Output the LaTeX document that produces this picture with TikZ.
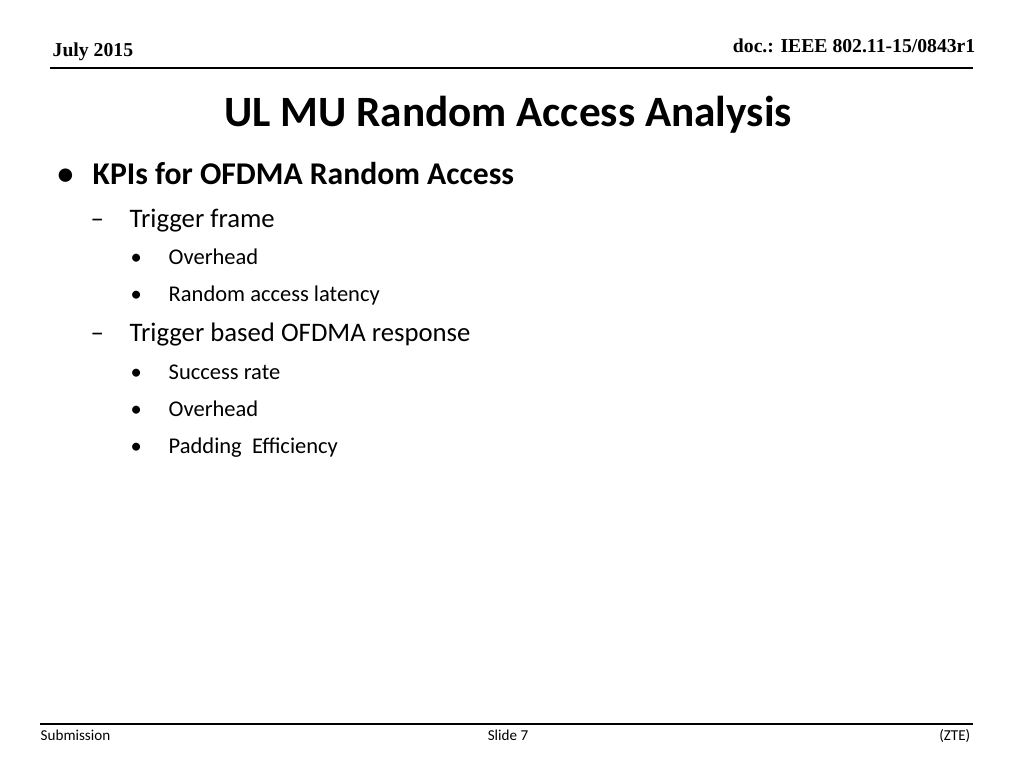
\documentclass[tikz,border=0pt]{standalone}
\usepackage{fontspec}
\setmainfont{Carlito}
\newfontfamily\timesfont{Liberation Serif}
\usetikzlibrary{positioning}
\tikzset{
  lvlone/.style={anchor=base west, inner sep=0pt, font=\fontsize{9}{11}\selectfont\bfseries},
  lvltwo/.style={anchor=base west, inner sep=0pt, font=\fontsize{7.6}{9}\selectfont},
  lvlthree/.style={anchor=base west, inner sep=0pt, font=\fontsize{6.4}{8}\selectfont},
  headtext/.style={inner sep=0pt, font=\fontsize{5.6}{7}\selectfont\timesfont\bfseries},
  foottext/.style={anchor=base, inner sep=0pt, font=\fontsize{4.3}{5}\selectfont}
}
\begin{document}
\begin{tikzpicture}[x=0.01cm,y=-0.01cm]
\useasboundingbox (0,0) rectangle (1024,768);

% Header
\node[headtext, anchor=base west] (Date) at (52,57) {July 2015};
\node[headtext, anchor=base east] (Doc) at (976,53) {doc.: IEEE 802.11-15/0843r1};
\draw[line width=0.6pt] (50,68) -- (973,68);

% Title
\node[anchor=base, inner sep=0pt, font=\fontsize{12.3}{14}\selectfont\bfseries] (Title) at (508,127) {UL MU Random Access Analysis};

% Bullets
\node[lvlone] at (57,185) {\textbullet};
\node[lvlone] (KPI) at (92,185) {KPIs for OFDMA Random Access};
\node[lvltwo] at (90,228) {--};
\node[lvltwo] (Trigger) at (129,228) {Trigger frame};
\node[lvlthree] at (130,265) {\textbullet};
\node[lvlthree] (OverheadA) at (168,265) {Overhead};
\node[lvlthree] at (130,302) {\textbullet};
\node[lvlthree] (Latency) at (168,302) {Random access latency};
\node[lvltwo] at (90,342) {--};
\node[lvltwo] (Response) at (129,342) {Trigger based OFDMA response};
\node[lvlthree] at (130,380) {\textbullet};
\node[lvlthree] (Success) at (168,380) {Success rate};
\node[lvlthree] at (130,417) {\textbullet};
\node[lvlthree] (OverheadB) at (168,417) {Overhead};
\node[lvlthree] at (130,454) {\textbullet};
\node[lvlthree] (Padding) at (168,454) {Padding\ \ Efficiency};

% Footer
\draw[line width=0.6pt] (40,724) -- (973,724);
\node[foottext, anchor=base west] (Sub) at (40,741) {Submission};
\node[foottext] (Slide) at (508,741) {Slide 7};
\node[foottext, anchor=base east] (Org) at (971,741) {(ZTE)};
\end{tikzpicture}
\end{document}
